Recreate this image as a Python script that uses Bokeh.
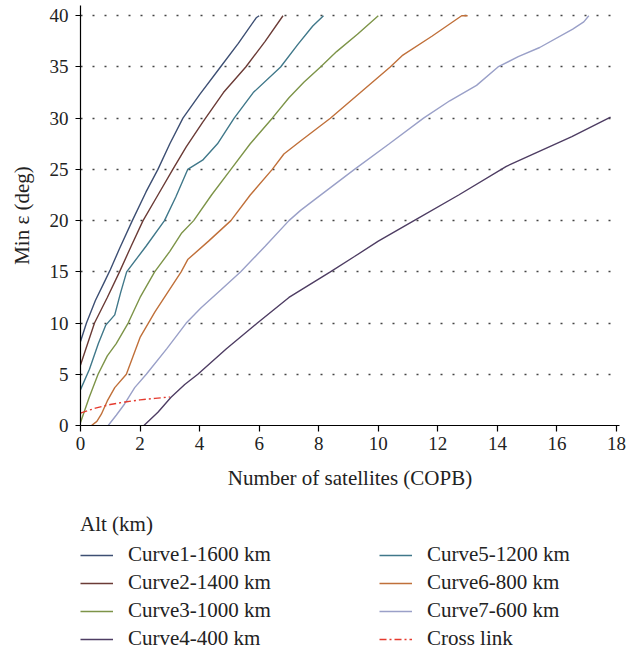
from bokeh.plotting import figure
from bokeh.layouts import column
from bokeh.models import Range1d, FixedTicker, Legend, LegendItem
from bokeh.embed import file_html
from bokeh.resources import INLINE

# ---- data ----
c1_x = [0, 0.2, 0.5, 0.8, 1.0, 1.3, 1.74, 2.2, 2.6, 3.0, 3.44, 4.0, 4.7, 5.3, 5.9, 6.0]
c1_y = [8.2, 10, 12.2, 14, 15.2, 17.2, 20, 22.8, 25, 27.5, 30, 32.3, 35, 37.3, 39.8, 40]

c2_x = [0, 0.47, 0.9, 1.31, 1.7, 2.1, 2.6, 3.1, 3.55, 4.1, 4.8, 5.55, 6.2, 6.8]
c2_y = [5.9, 10, 12.5, 15, 17.5, 20, 22.5, 25, 27.2, 29.6, 32.5, 35, 37.5, 40]

c3_x = [0, 0.3, 0.59, 0.9, 1.2, 1.6, 2.0, 2.49, 3.0, 3.4, 3.8, 4.4, 5.05, 5.7, 6.44, 7.0, 7.5, 8.06, 8.6, 9.3, 10.0]
c3_y = [0.3, 2.8, 5, 6.8, 8, 10, 12.5, 15, 17, 18.8, 20, 22.5, 25, 27.5, 30, 32, 33.5, 35, 36.5, 38.2, 40]

c4_x = [2.13, 2.6, 3.04, 3.5, 3.94, 4.9, 5.94, 7.0, 8.39, 9.2, 10.0, 11.2, 12.7, 14.3, 15.2, 16.5, 17.8]
c4_y = [0, 1.3, 2.76, 4, 5, 7.5, 10, 12.5, 15, 16.5, 18, 20, 22.5, 25.3, 26.5, 28.2, 30.1]

c5_x = [0, 0.3, 0.6, 0.85, 1.15, 1.35, 1.55, 2.2, 2.82, 3.2, 3.6, 4.1, 4.6, 5.16, 5.8, 6.72, 7.3, 7.8, 8.16]
c5_y = [3.5, 5.5, 8, 9.8, 10.8, 13, 15, 17.5, 20, 22.3, 25, 25.9, 27.5, 30, 32.5, 35, 37.2, 39, 40]

c6_x = [0.37, 0.55, 0.7, 0.9, 1.15, 1.54, 2.0, 2.5, 2.95, 3.38, 3.6, 4.3, 5.05, 5.7, 6.44, 6.83, 7.4, 8.39, 9.4, 10.4, 10.8, 11.8, 12.8, 13.0]
c6_y = [0, 0.4, 1.1, 2.4, 3.7, 5, 8.6, 11.1, 13.1, 15, 16.2, 18, 20, 22.5, 25, 26.5, 27.8, 30, 32.5, 35, 36.1, 38, 40, 40]

c7_x = [0.93, 1.2, 1.48, 1.82, 2.21, 2.9, 3.55, 4.05, 4.7, 5.38, 6.2, 7.0, 7.39, 7.84, 9.2, 10.37, 11.52, 12.4, 13.3, 14.02, 14.7, 15.42, 16.53, 16.9, 17.07]
c7_y = [0, 1, 2.1, 3.7, 5, 7.5, 10, 11.5, 13.2, 15, 17.5, 20, 21, 22, 25, 27.5, 30, 31.7, 33.2, 35, 36, 36.9, 38.7, 39.4, 40]

cross_x = [0, 0.5, 1.0, 1.5, 2.0, 2.5, 3.0]
cross_y = [1.2, 1.7, 2.05, 2.3, 2.5, 2.65, 2.78]

x_ticks = [0, 2, 4, 6, 8, 10, 12, 14, 16, 18]
y_ticks = [0, 5, 10, 15, 20, 25, 30, 35, 40]

labels = ["Curve1-1600 km", "Curve2-1400 km", "Curve3-1000 km", "Curve4-400 km",
          "Curve5-1200 km", "Curve6-800 km", "Curve7-600 km", "Cross link"]
colors = ["#3d4f73", "#6b3b36", "#7d9448", "#4e3d63", "#40788a", "#c0703a", "#9aa0c8", "#e53a2e"]
dashes = ["solid"] * 7 + ["7 3 2 3"]

FONT = "Liberation Serif"

p = figure(width=640, height=500, output_backend="svg", toolbar_location=None,
           x_range=Range1d(0, 18.1), y_range=Range1d(0, 41),
           min_border_left=79, min_border_right=21, min_border_top=5, min_border_bottom=75)
p.outline_line_color = None
p.background_fill_color = "white"

series = [(c1_x, c1_y), (c2_x, c2_y), (c3_x, c3_y), (c4_x, c4_y),
          (c5_x, c5_y), (c6_x, c6_y), (c7_x, c7_y), (cross_x, cross_y)]
for (xs, ys), col, dsh in zip(series, colors, dashes):
    p.line(xs, ys, line_color=col, line_width=1.4, line_dash=dsh)

# axes
p.xaxis.ticker = FixedTicker(ticks=x_ticks)
p.yaxis.ticker = FixedTicker(ticks=y_ticks)
for ax in (p.xaxis[0], p.yaxis[0]):
    ax.axis_line_color = "black"
    ax.axis_line_width = 1.2
    ax.major_tick_line_color = "black"
    ax.major_tick_line_width = 1.2
    ax.major_tick_in = 0
    ax.minor_tick_line_color = None
    ax.major_label_text_font = FONT
    ax.major_label_text_font_size = "19px"
    ax.major_label_text_color = "#222222"
    ax.axis_label_text_font = FONT
    ax.axis_label_text_font_size = "21px"
    ax.axis_label_text_font_style = "normal"
    ax.axis_label_text_color = "#222222"
p.xaxis.major_tick_out = 6
p.yaxis.major_tick_out = 5
p.xaxis.major_label_standoff = 5
p.yaxis.major_label_standoff = 7
p.xaxis.axis_label = "Number of satellites (COPB)"
p.yaxis.axis_label = "Min ε (deg)"
p.xaxis.axis_label_standoff = 13
p.yaxis.axis_label_standoff = 13

# grid
p.xgrid.grid_line_color = None
p.ygrid.ticker = FixedTicker(ticks=y_ticks[1:])
p.ygrid.grid_line_color = "#444444"
p.ygrid.grid_line_width = 1.6
p.ygrid.grid_line_dash = "2 10"

# legend panel (second, axis-less figure holding the key)
q = figure(width=640, height=152, output_backend="svg", toolbar_location=None,
           x_range=Range1d(0, 1), y_range=Range1d(0, 1),
           min_border_left=80, min_border_right=0, min_border_top=12, min_border_bottom=0)
q.axis.visible = False
q.grid.visible = False
q.outline_line_color = None
key_renderers = [q.line([5], [5], line_color=col, line_width=1.4, line_dash=dsh)
                 for col, dsh in zip(colors, dashes)]
items = [LegendItem(label=lab, renderers=[r]) for lab, r in zip(labels, key_renderers)]
legend = Legend(items=items, ncols=2, orientation="vertical",
                title="Alt (km)", title_text_font=FONT, title_text_font_size="21px",
                title_text_font_style="normal", title_text_color="#222222", title_standoff=5,
                label_text_font=FONT, label_text_font_size="21px", label_text_color="#222222",
                glyph_width=33, glyph_height=20, label_height=20, label_standoff=15,
                label_width=248, spacing=3, padding=0, margin=0,
                border_line_color=None, background_fill_alpha=0,
                location="top_left")
q.add_layout(legend, "center")

open("out.html", "w").write(file_html(column(p, q, spacing=0), INLINE))
